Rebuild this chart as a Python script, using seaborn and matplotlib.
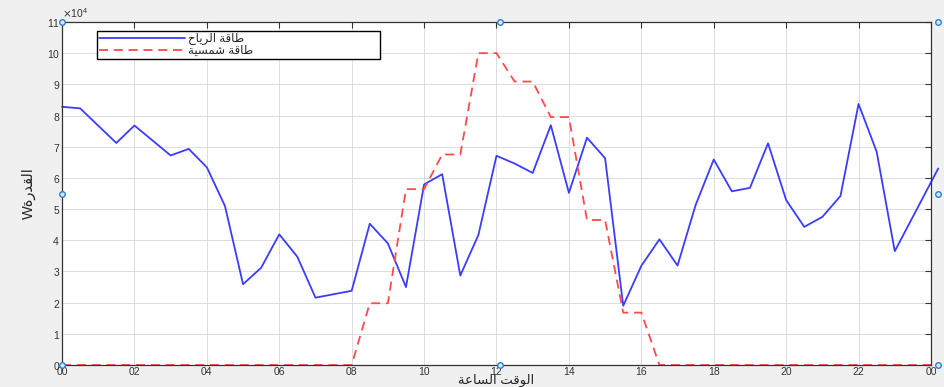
import matplotlib
matplotlib.use("Agg")
import matplotlib.pyplot as plt
from matplotlib.ticker import ScalarFormatter, FixedLocator
import pandas as pd
import seaborn as sns

# Wind power output (W) over the day, hours since midnight
wind_hours = [0, 0.5, 1.5, 2, 3, 3.5, 4, 4.5, 5, 5.5, 6, 6.5, 7, 8, 8.5, 9, 9.5,
              10, 10.5, 11, 11.5, 12, 12.5, 13, 13.5, 14, 14.5, 15, 15.5, 16,
              16.5, 17, 17.5, 18, 18.5, 19, 19.5, 20, 20.5, 21, 21.5, 22, 22.5,
              23, 24.2]
wind_power = [82800, 82300, 71200, 76800, 67200, 69300, 63400, 51000, 25900,
              31200, 41900, 34700, 21600, 23800, 45300, 39000, 25000, 57900,
              61200, 28700, 41700, 67100, 64600, 61600, 76900, 55200, 72900,
              66300, 19000, 31800, 40300, 31900, 51300, 65900, 55700, 56800,
              71100, 52900, 44300, 47500, 54200, 83700, 68400, 36500, 63000]

# Solar power output (W)
solar_hours = [0, 8, 8.5, 9, 9.5, 10, 10.5, 11, 11.5, 12, 12.5, 13, 13.5, 14,
               14.5, 15, 15.5, 16, 16.5, 24]
solar_power = [0, 0, 19800, 19800, 56400, 56400, 67500, 67500, 100000, 100000,
               90900, 90900, 79500, 79500, 46500, 46500, 16800, 16800, 0, 0]

tick_hours = list(range(0, 25, 2))
tick_labels = ["00", "02", "04", "06", "08", "10", "12", "14", "16", "18",
               "20", "22", "00"]

# Arabic labels in presentation forms, in visual (left-to-right) glyph order
label_wind = "\uFEA1\uFE8E\uFEF3\uFEAE\uFEDF\uFE8D \uFE94\uFED7\uFE8E\uFEC3"
label_solar = "\uFE94\uFEF4\uFEB4\uFEE4\uFEB7 \uFE94\uFED7\uFE8E\uFEC3"
label_x = "\uFE94\uFECB\uFE8E\uFEB4\uFEDF\uFE8D \uFE96\uFED7\uFEEE\uFEDF\uFE8D"
label_y = "W\uFE93\uFEAD\uFEAA\uFED8\uFEDF\uFE8D"

wind_df = pd.DataFrame({"hour": wind_hours, "power": wind_power})
solar_df = pd.DataFrame({"hour": solar_hours, "power": solar_power})

sns.set_style("white")
plt.rcParams["font.family"] = ["Liberation Sans", "DejaVu Sans"]

fig = plt.figure(figsize=(9.44, 3.87), dpi=100, facecolor="#f0f0f0")
ax = fig.add_axes([0.0657, 0.0568, 0.9205, 0.8864])
ax.set_facecolor("white")

sns.lineplot(data=wind_df, x="hour", y="power", ax=ax, sort=False,
             estimator=None, color="#3c3cff", linewidth=1.3, label=label_wind)
sns.lineplot(data=solar_df, x="hour", y="power", ax=ax, sort=False,
             estimator=None, color="#ff4a4a", linewidth=1.3, label=label_solar,
             dashes=False)
ax.lines[0].set_clip_on(False)
ax.lines[1].set_linestyle((0, (5, 3.2)))

ax.set_xlim(0, 24)
ax.set_ylim(0, 110000)
ax.xaxis.set_major_locator(FixedLocator(tick_hours))
ax.set_xticklabels(tick_labels)
ax.set_yticks(range(0, 110001, 10000))

fmt = ScalarFormatter(useMathText=True)
fmt.set_powerlimits((4, 4))
ax.yaxis.set_major_formatter(fmt)
ax.yaxis.get_offset_text().set_fontsize(7.5)
ax.yaxis.get_offset_text().set_color("#404040")

ax.grid(True, color="#dddddd", linewidth=0.7)
ax.tick_params(direction="in", length=4, width=0.8, top=True, right=True,
               labelsize=7.5, colors="#333333", pad=1.5)
for s in ax.spines.values():
    s.set_color("#333333")
    s.set_linewidth(0.9)

ax.set_xlabel(label_x, fontsize=9.5, color="#262626", va="center")
ax.xaxis.set_label_coords(0.5, -0.046)
ax.set_ylabel(label_y, fontsize=10.5, color="#262626", labelpad=8)

# selection handles around the wind curve
hx = [0, 0, 0, 12.1, 12.1, 24.2, 24.2, 24.2]
hy = [0, 55000, 110000, 110000, 0, 0, 55000, 110000]
ax.plot(hx, hy, "o", ls="none", markersize=4, mfc="#d6e8f8", mec="#2f7fcf",
        mew=1.0, clip_on=False, zorder=5)

leg = ax.legend(loc="upper left", bbox_to_anchor=(0.040, 0.898, 0.326, 0.076),
                mode="expand", fontsize=8.5, frameon=True, fancybox=False,
                edgecolor="black", framealpha=1, handlelength=7.3,
                handletextpad=0.3, borderpad=0.15, labelspacing=0.05,
                borderaxespad=0)
leg.get_frame().set_linewidth(1.0)

fig.savefig("out.png", dpi=100, facecolor=fig.get_facecolor())
